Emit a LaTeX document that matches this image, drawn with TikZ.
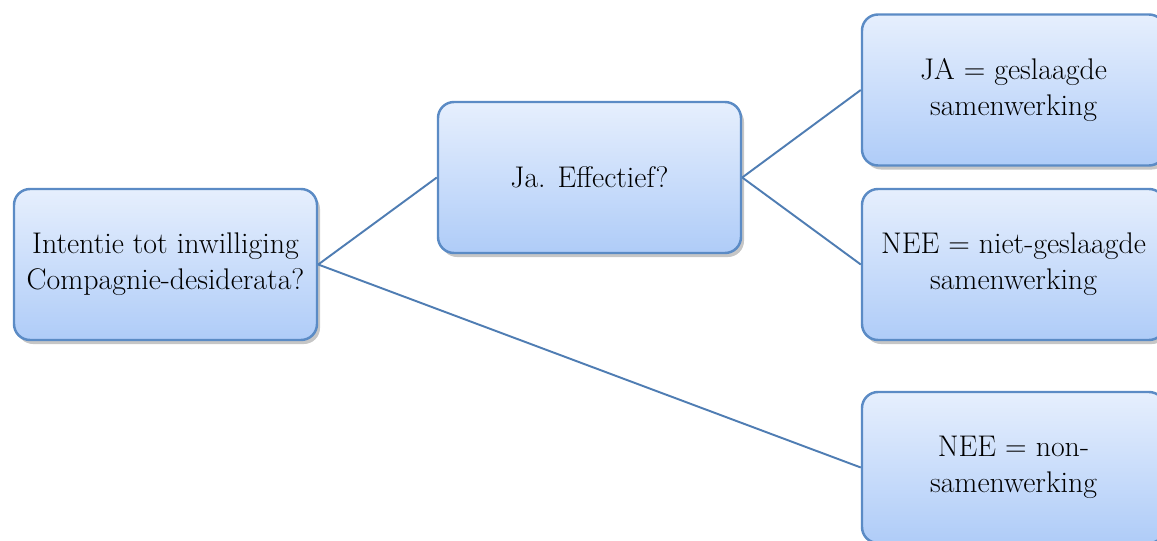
\documentclass[tikz,border=0pt]{standalone}
\usepackage{amsmath}
\usepackage{tikz}
\usetikzlibrary{calc,shadows}

\definecolor{boxtop}{HTML}{E6EFFD}
\definecolor{boxbottom}{HTML}{AFCCF8}
\definecolor{boxline}{HTML}{5B8BC5}
\definecolor{linkline}{HTML}{4F7DB3}

\tikzset{
	keuze/.style={draw=boxline, line width=1.4pt, rounded corners=0.32cm,
		top color=boxtop, bottom color=boxbottom,
		minimum width=6.06cm, minimum height=3.02cm, align=center,
		font=\fontsize{17}{20.5}\selectfont,
		drop shadow={shadow xshift=0.06cm, shadow yshift=-0.08cm, opacity=0.45}},
	tak/.style={draw=linkline, line width=1.1pt}
}

\begin{document}
\begin{tikzpicture}
	\useasboundingbox (0,0) rectangle (23.14,-10.82);
	\node[keuze] (intentie) at (3.31,-5.29) {Intentie tot inwilliging\\Compagnie-desiderata?};
	\node[keuze] (effectief) at (11.79,-3.55) {Ja. Effectief?};
	\node[keuze] (ja) at (20.27,-1.80) {JA = geslaagde\\samenwerking};
	\node[keuze] (nee) at (20.27,-5.29) {NEE = niet-geslaagde\\samenwerking};
	\node[keuze] (non) at (20.27,-9.35) {NEE = non-\\samenwerking};
	\path[tak]
	(intentie.east) edge (effectief.west)
			edge (non.west)
	(effectief.east) edge (ja.west)
			edge (nee.west);
\end{tikzpicture}
\end{document}
